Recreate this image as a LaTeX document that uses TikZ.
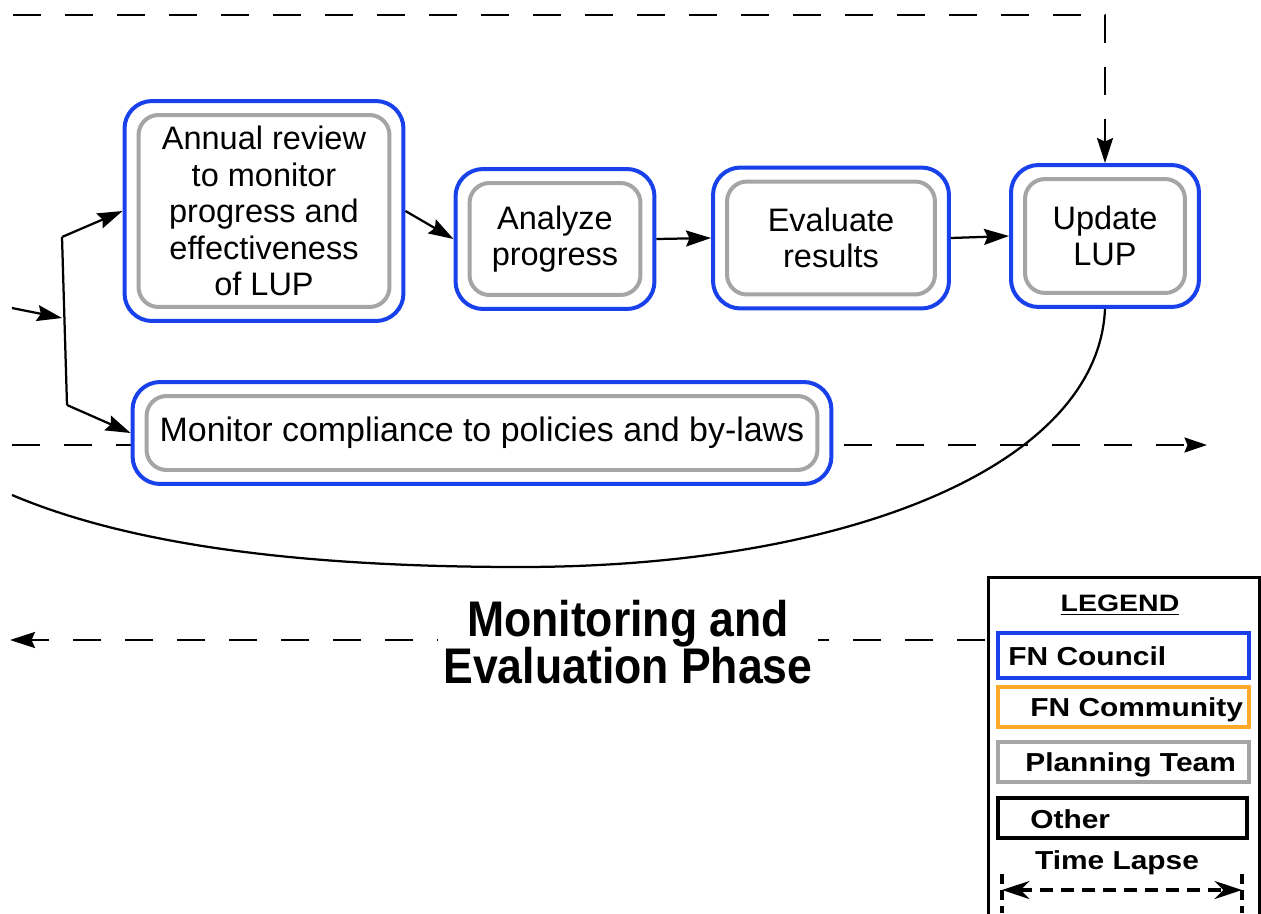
\documentclass[tikz,border=0pt]{standalone}
\usepackage{graphicx}
\usepackage{fontspec}
\setmainfont{Liberation Sans}
\usetikzlibrary{arrows.meta, positioning, fit, backgrounds}

\definecolor{councilblue}{RGB}{25,65,235}
\definecolor{teamgray}{RGB}{165,165,165}
\definecolor{communityorange}{RGB}{255,170,40}

\newcommand{\narrowtxt}[1]{\scalebox{0.89}[1]{#1}}
\newcommand{\widetxt}[1]{\scalebox{1.15}[1]{#1}}

\tikzset{
  team/.style={draw=teamgray, line width=0.08cm, rounded corners=0.4cm, fill=white,
    align=center, inner sep=0pt, font=\fontsize{18.5}{20.8}\selectfont},
  council/.style={draw=councilblue, line width=0.08cm, rounded corners=0.55cm,
    fill=white, inner sep=0.24cm},
  arr/.style={line width=0.045cm, -{Stealth[length=0.5cm,width=0.32cm,inset=0.07cm]}},
  lapse/.style={line width=0.045cm, dash pattern=on 0.56cm off 0.48cm},
  legbox/.style={line width=0.08cm},
  legtext/.style={anchor=west, inner sep=0pt, font=\fontsize{14.8}{16}\selectfont\bfseries},
}

\begin{document}
\begin{tikzpicture}[x=0.02cm, y=-0.02cm]
  \useasboundingbox (0,0) rectangle (1261,913);
  \clip (0,0) rectangle (1261,913);

  % steps
  \node[team, minimum width=5.02cm, minimum height=3.84cm] (review) at (264,211)
    {Annual review\\to monitor\\progress and\\effectiveness\\of LUP};
  \node[team, minimum width=3.42cm, minimum height=2.24cm] (analyze) at (555,239) {Analyze\\progress};
  \node[team, minimum width=4.16cm, minimum height=2.26cm] (evaluate) at (831,238) {Evaluate\\results};
  \node[team, minimum width=3.2cm, minimum height=2.28cm] (update) at (1105,236) {Update\\LUP};
  \node[team, minimum width=13.42cm, minimum height=1.48cm, font=\fontsize{19.3}{22}\selectfont]
    (comply) at (482,433) {Monitor compliance to policies and by-laws};

  % council frames, behind the steps
  \begin{scope}[on background layer]
    \coordinate (midin) at (12,445);
    \coordinate (midout) at (1207,445);
    \draw[lapse, -{Stealth[length=0.45cm,width=0.3cm,inset=0.06cm]}] (midin) -- (midout);
    \foreach \n in {review,analyze,evaluate,update,comply}
      \node[council, fit=(\n)] (\n-c) {};
  \end{scope}

  % connectors
  \coordinate (feed) at (12,308);
  \coordinate (split) at (62,318);
  \coordinate (splittop) at (62,237);
  \coordinate (splitbot) at (67,405);
  \draw[arr] (feed) -- (split);
  \draw[line width=0.045cm] (splittop) -- (splitbot);
  \draw[arr] (splittop) -- (review-c.west);
  \draw[arr] (splitbot) -- (comply-c.west);
  \draw[arr] (review-c.east) -- (analyze-c.west);
  \draw[arr] (analyze-c.east) -- (evaluate-c.west);
  \draw[arr] (evaluate-c.east) -- (update-c.west);

  % time lapse back to the update
  \coordinate (topin) at (13,15);
  \draw[lapse, arr] (topin) -- (update-c.north |- topin) -- (update-c.north);

  % loop
  \coordinate (loopend) at (12,495);
  \draw[line width=0.045cm] (update-c.south) .. controls (1098,465) and (850,567) .. (520,567)
    .. controls (300,567) and (130,545) .. (loopend);

  % phase
  \coordinate (phasein) at (985,640);
  \coordinate (phaseout) at (10,640);
  \draw[lapse, arr] (phasein) -- (phaseout);
  \node[fill=white, inner sep=3pt, align=center, font=\fontsize{28.5}{26.7}\selectfont\bfseries]
    (phase) at (628,642) {\narrowtxt{Monitoring and}\\\narrowtxt{Evaluation Phase}};

  % legend
  \draw[line width=0.06cm] (988,577) rectangle (1259,940);
  \node[font=\fontsize{13.5}{15}\selectfont\bfseries] (legtitle) at (1120,605)
    {\scalebox{1.2}[1]{\underline{LEGEND}}};
  \draw[legbox, draw=councilblue] (998,633) rectangle (1249,678);
  \node[legtext] (legcouncil) at (1008,656) {\widetxt{FN Council}};
  \draw[legbox, draw=communityorange] (998,687) rectangle (1249,727);
  \node[legtext] (legcommunity) at (1030,710) {\widetxt{FN Community}};
  \draw[legbox, draw=teamgray] (998,742) rectangle (1249,782);
  \node[legtext] (legteam) at (1025,765) {\widetxt{Planning Team}};
  \draw[legbox, draw=black] (998,798) rectangle (1247,838);
  \node[legtext] (legother) at (1030,819) {\widetxt{Other}};
  \node[legtext, anchor=center] (leglapse) at (1117,863) {\widetxt{Time Lapse}};
  \coordinate (lapseL) at (1002,890);
  \coordinate (lapseR) at (1242,890);
  \draw[line width=0.07cm, dash pattern=on 0.26cm off 0.16cm,
    {Stealth[length=0.55cm,width=0.36cm]}-{Stealth[length=0.55cm,width=0.36cm]}] (lapseL) -- (lapseR);
  \draw[line width=0.07cm, dash pattern=on 0.2cm off 0.12cm] (1002,874) -- (1002,913);
  \draw[line width=0.07cm, dash pattern=on 0.2cm off 0.12cm] (1242,874) -- (1242,913);
\end{tikzpicture}
\end{document}
